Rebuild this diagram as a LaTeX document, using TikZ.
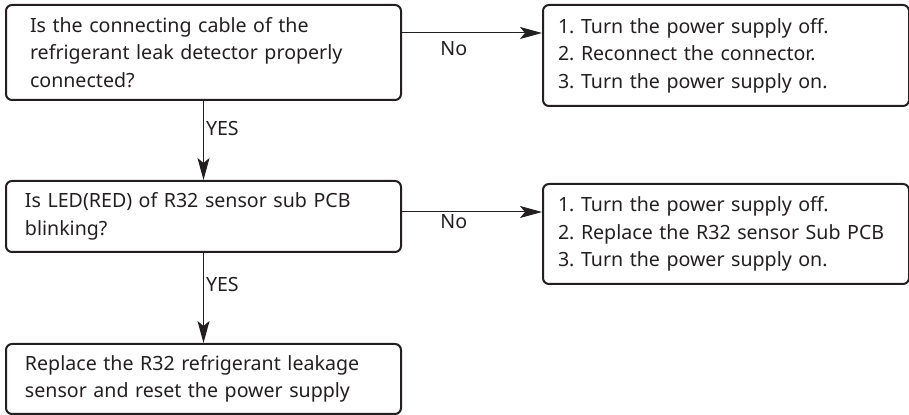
\documentclass[tikz,border=0pt]{standalone}
\usepackage{fontspec}
\setmainfont{Noto Sans}
\usetikzlibrary{arrows.meta}
\definecolor{ink}{HTML}{231F20}
\frenchspacing
\begin{document}
\begin{tikzpicture}[x=0.5pt,y=-0.5pt,
  box/.style={draw=ink,line width=1pt,rounded corners=3pt,anchor=north west,
    inner xsep=9.5pt,inner ysep=0pt,align=left,text=ink,
    font=\fontsize{9.8}{13.75}\selectfont},
  link/.style={draw=ink,line width=0.5pt,-{Stealth[length=11pt,width=6pt,inset=2.5pt]}},
  lbl/.style={text=ink,font=\fontsize{9.8}{12}\selectfont,inner sep=1pt}]
\useasboundingbox (0,0) rectangle (909,415);
% left column
\node[box,minimum width=197.5pt,minimum height=47.5pt,text width=173.5pt,inner xsep=12pt] (q1) at (5,4)
  {Is the connecting cable of the\\refrigerant leak detector properly\\connected?};
\node[box,minimum width=197.5pt,minimum height=35.5pt,text width=178.5pt] (q2) at (5,180)
  {Is LED(RED) of R32 sensor sub PCB\\blinking?};
\node[box,minimum width=197.5pt,minimum height=35pt,text width=178.5pt] (res) at (5,343)
  {Replace the R32 refrigerant leakage\\sensor and reset the power supply};
% right column
\node[box,minimum width=183pt,minimum height=50.5pt,text width=168pt,inner xsep=7.5pt] (fix1) at (542,4)
  {1. Turn the power supply off.\\2. Reconnect the connector.\\3. Turn the power supply on.};
\node[box,minimum width=183pt,minimum height=50pt,text width=168pt,inner xsep=7.5pt] (fix2) at (542,183)
  {1. Turn the power supply off.\\2. Replace the R32 sensor Sub PCB\\3. Turn the power supply on.};
% arrows
\coordinate (n1) at (400,33);
\coordinate (n2) at (400,212);
\draw[link] (q1.east |- n1) -- (fix1.west |- n1) node[lbl,pos=0.37,yshift=-8pt] (no1) {No};
\draw[link] (q2.east |- n2) -- (fix2.west |- n2) node[lbl,pos=0.37,yshift=-5pt] (no2) {No};
\draw[link] (q1.south) -- (q2.north) node[lbl,pos=0.35,right] (yes1) {YES};
\draw[link] (q2.south) -- (res.north) node[lbl,pos=0.35,right] (yes2) {YES};
\end{tikzpicture}
\end{document}
